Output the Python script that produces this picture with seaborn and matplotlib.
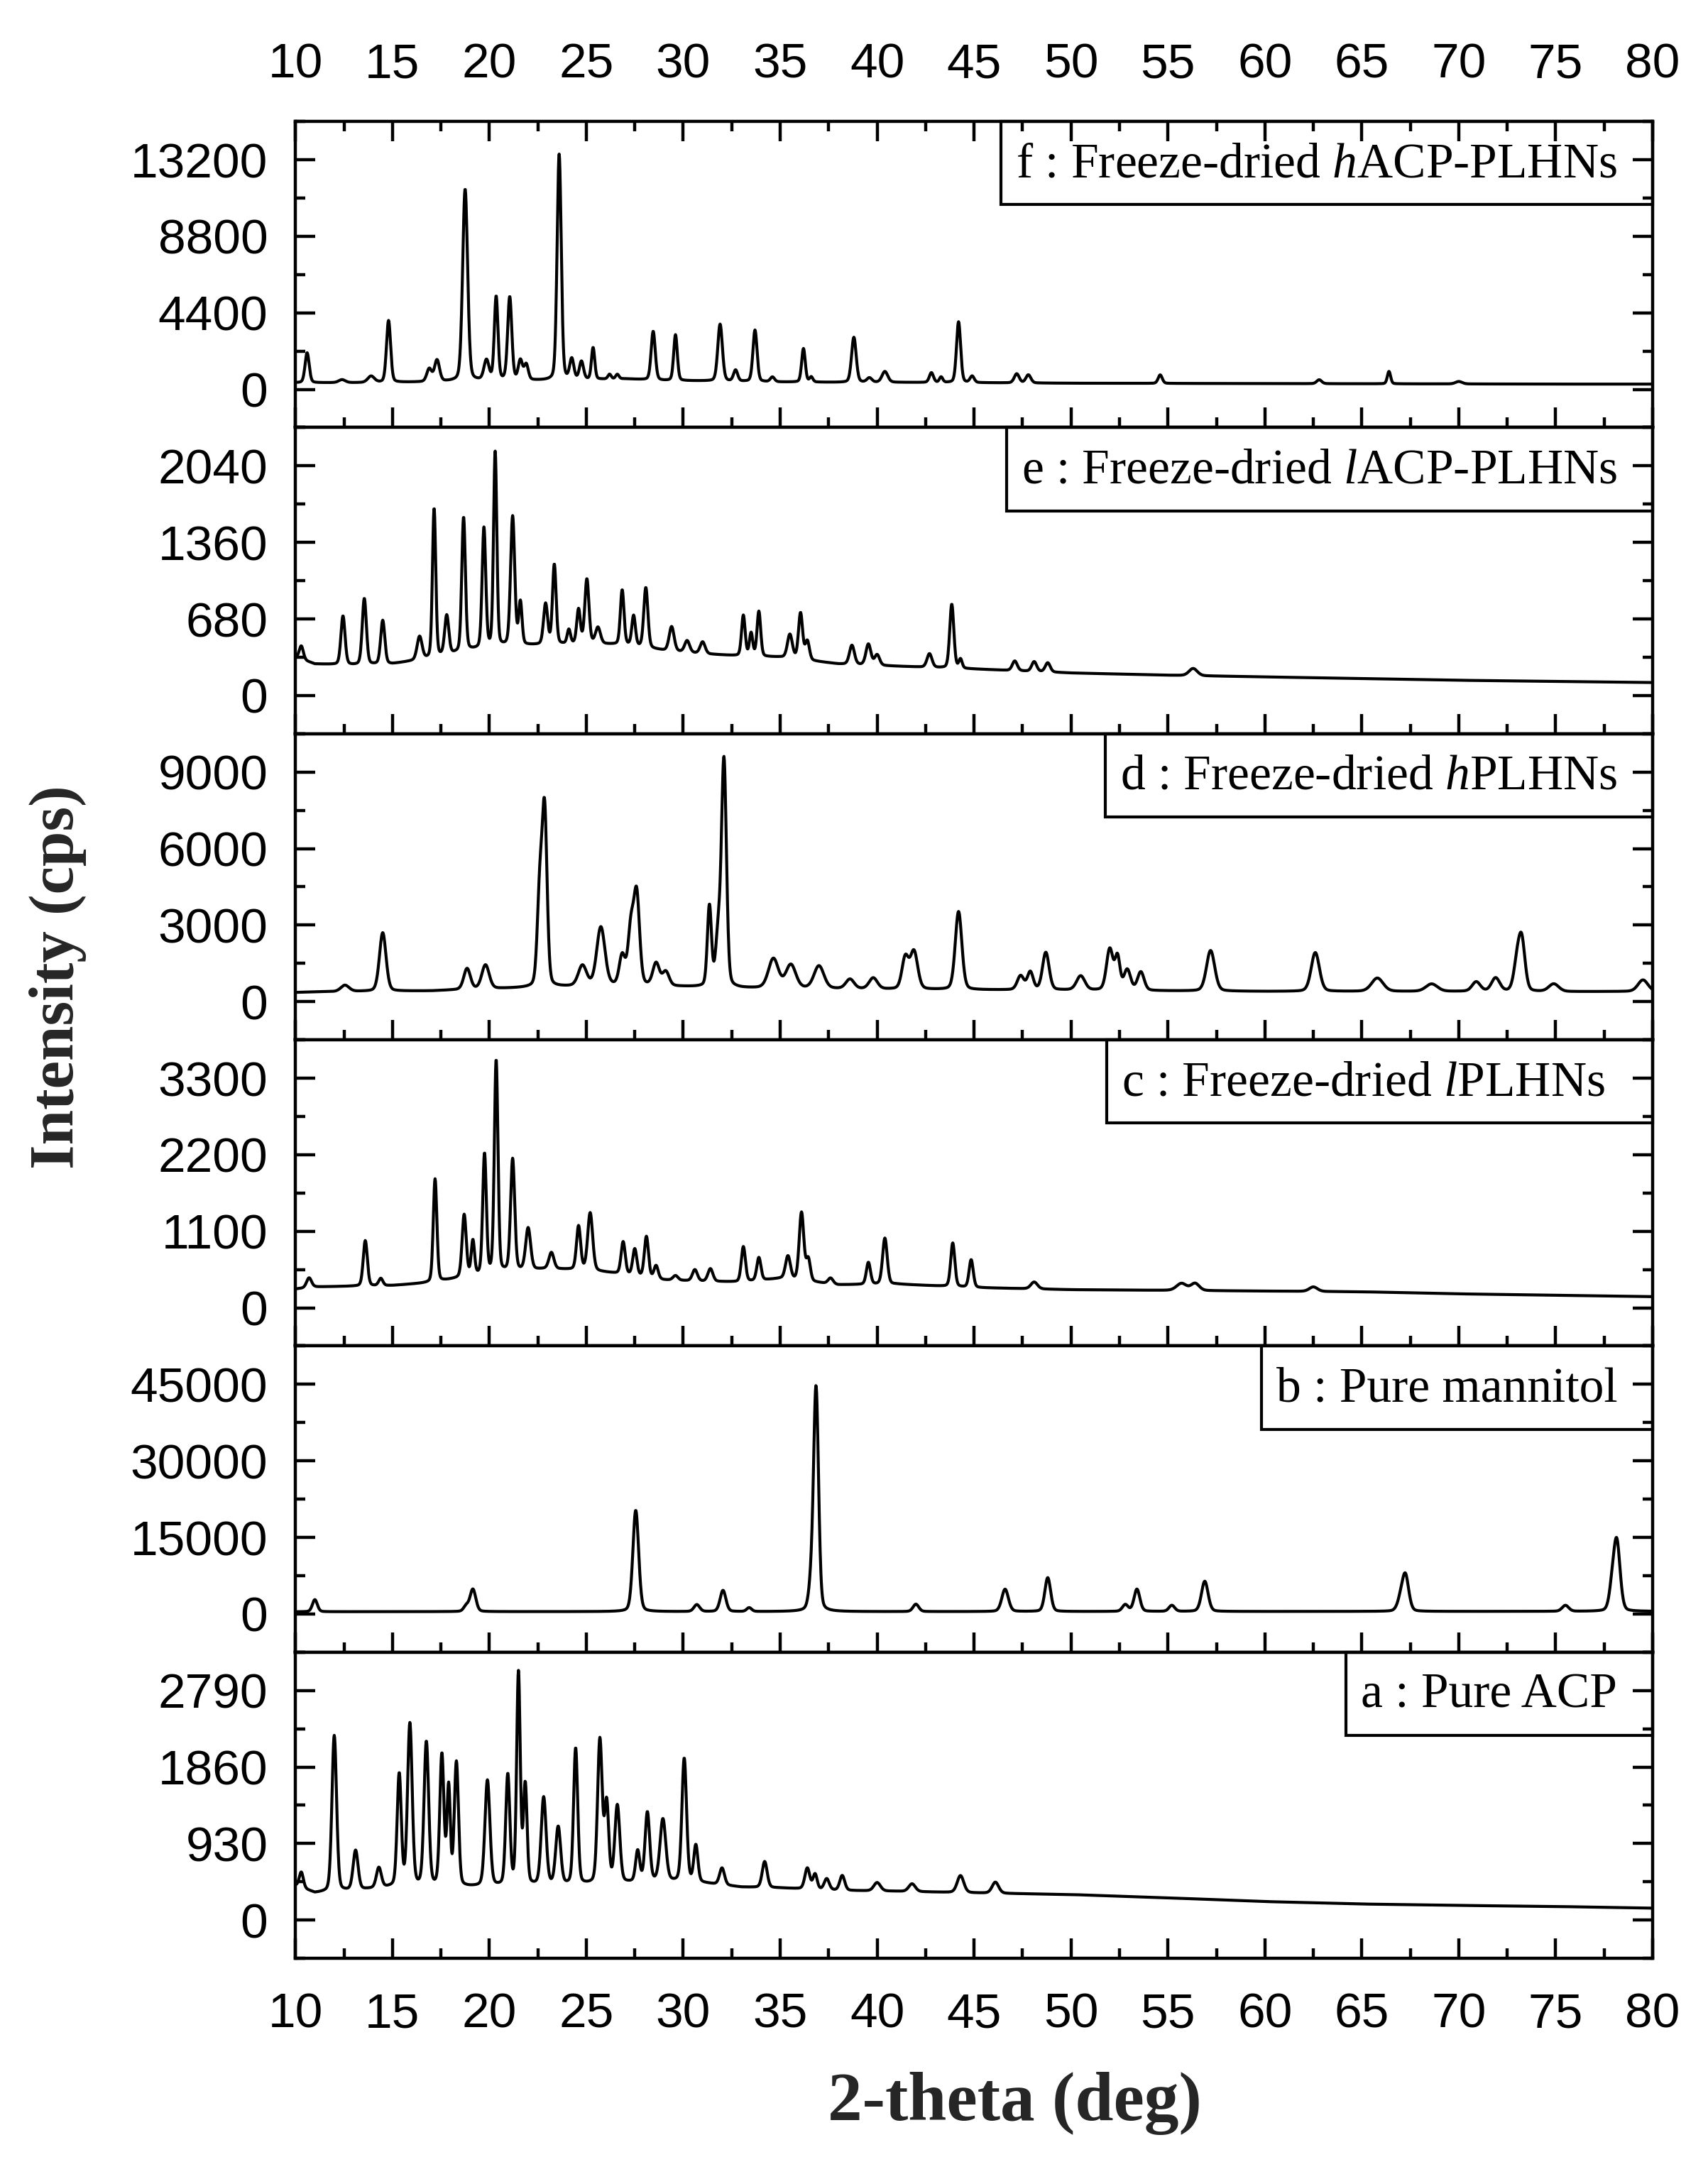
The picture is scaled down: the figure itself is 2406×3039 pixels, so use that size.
import numpy as np
import pandas as pd
import matplotlib
matplotlib.use("Agg")
import matplotlib.pyplot as plt
import seaborn as sns
from matplotlib.patches import Rectangle
from matplotlib.ticker import MultipleLocator

# ---- data (2-theta in deg, counts in cps) ----
# background knots, shared 2-theta positions
BG_X = [10, 11, 13, 15, 17, 19, 21, 23, 25, 27, 29, 31, 33, 35, 38, 41, 45, 50, 55, 60, 65, 70, 75, 80]

# f : Freeze-dried hACP-PLHNs
F_BG = [380, 380, 380, 400, 420, 480, 520, 500, 550, 600, 500, 480, 450, 420, 400, 400, 380, 350, 340, 330, 320, 310, 300, 300]
F_POS = [10.6, 12.4, 13.9, 14.8, 16.9, 17.3, 18.75, 19.85, 20.35, 21.05, 21.6, 21.9, 23.6, 24.25, 24.75, 25.35,
         26.2, 26.6, 28.45, 29.6, 31.9, 32.7, 33.7, 34.6, 36.2, 36.6, 38.8, 39.6, 40.4, 42.8, 43.3, 44.2, 44.9,
         47.2, 47.8, 54.6, 62.8, 66.4, 70.0]
F_TOP = [2100, 550, 750, 3950, 1160, 1660, 11500, 1630, 5300, 5280, 1630, 1400, 13500, 1700, 1570, 2380,
         850, 850, 3330, 3130, 3740, 1090, 3400, 700, 2340, 700, 2990, 650, 1020, 950, 700, 3880, 750,
         890, 830, 830, 550, 1030, 450]
F_FWHM = [0.25, 0.4, 0.4, 0.25, 0.3, 0.3, 0.3, 0.3, 0.22, 0.25, 0.25, 0.25, 0.25, 0.25, 0.25, 0.2,
          0.2, 0.2, 0.25, 0.22, 0.28, 0.25, 0.25, 0.25, 0.22, 0.2, 0.28, 0.3, 0.35, 0.25, 0.2, 0.25, 0.25,
          0.3, 0.3, 0.25, 0.3, 0.2, 0.4]

# e : Freeze-dried lACP-PLHNs
E_BG = [340, 280, 270, 280, 330, 400, 440, 450, 460, 450, 400, 370, 350, 340, 280, 260, 235, 200, 180, 165, 150, 135, 125, 115]
E_POS = [10.3, 12.45, 13.55, 14.5, 16.4, 17.15, 17.8, 18.67, 19.72, 20.3, 21.2, 21.6, 22.9, 23.35, 24.1, 24.6,
         25.03, 25.6, 26.85, 27.44, 28.07, 29.4, 30.2, 31.0, 33.1, 33.5, 33.9, 35.5, 36.05, 36.4, 38.7, 39.55,
         40.0, 42.7, 43.85, 44.3, 47.1, 48.1, 48.8, 56.3]
E_TOP = [440, 705, 860, 665, 520, 1660, 705, 1580, 1480, 2155, 1585, 820, 810, 1160, 580, 760,
         1030, 600, 935, 705, 956, 610, 485, 475, 710, 550, 745, 540, 730, 480, 445, 455,
         360, 370, 810, 320, 306, 300, 290, 240]
E_FWHM = [0.25, 0.25, 0.25, 0.25, 0.3, 0.2, 0.25, 0.22, 0.22, 0.2, 0.25, 0.2, 0.25, 0.22, 0.2, 0.22,
          0.25, 0.3, 0.22, 0.22, 0.25, 0.3, 0.3, 0.3, 0.22, 0.2, 0.22, 0.3, 0.25, 0.25, 0.3, 0.3,
          0.3, 0.3, 0.25, 0.2, 0.3, 0.3, 0.3, 0.5]

# d : Freeze-dried hPLHNs
D_BG = [360, 380, 400, 410, 420, 480, 520, 560, 600, 620, 600, 560, 520, 520, 500, 480, 460, 450, 420, 400, 400, 400, 390, 400]
D_POS = [12.55, 14.5, 18.85, 19.8, 22.6, 22.85, 24.8, 25.75, 26.85, 27.3, 27.6, 28.6, 29.1, 31.35, 31.8, 32.1,
         34.65, 35.55, 37.0, 38.6, 39.8, 41.45, 41.9, 44.2, 47.4, 47.9, 48.7, 50.5, 52.0, 52.4, 52.9, 53.6,
         57.2, 62.6, 65.8, 68.6, 70.9, 71.9, 73.0, 73.25, 74.9, 79.5]
D_TOP = [640, 2700, 1290, 1430, 4200, 7300, 1390, 2900, 1760, 2800, 4100, 1480, 1150, 3700, 2500, 9400,
         1670, 1430, 1390, 870, 920, 1700, 1950, 3525, 1000, 1150, 1920, 1000, 2050, 1700, 1230, 1150,
         2000, 1920, 920, 690, 770, 920, 1400, 2300, 690, 850]
D_FWHM = [0.5, 0.4, 0.4, 0.45, 0.3, 0.3, 0.5, 0.5, 0.35, 0.35, 0.35, 0.4, 0.4, 0.25, 0.3, 0.3,
          0.6, 0.6, 0.6, 0.5, 0.5, 0.4, 0.45, 0.4, 0.4, 0.35, 0.4, 0.5, 0.4, 0.3, 0.4, 0.4,
          0.5, 0.5, 0.7, 0.7, 0.5, 0.5, 0.4, 0.4, 0.6, 0.6]

# c : Freeze-dried lPLHNs
C_BG = [270, 300, 310, 320, 360, 450, 520, 560, 540, 480, 400, 380, 370, 420, 330, 340, 290, 260, 250, 240, 230, 200, 180, 160]
C_POS = [10.7, 13.6, 14.4, 17.2, 18.7, 19.15, 19.75, 20.35, 21.2, 22.0, 23.2, 24.6, 25.2, 26.9, 27.5, 28.1,
         28.6, 29.6, 30.6, 31.4, 33.1, 33.9, 35.4, 36.1, 36.45, 37.6, 39.55, 40.4, 43.9, 44.85,
         48.1, 55.7, 56.4, 62.5]
C_TOP = [430, 965, 420, 1850, 1330, 950, 2200, 3550, 2130, 1140, 790, 1170, 1360, 945, 840, 1020,
         600, 460, 546, 560, 877, 720, 740, 1365, 690, 425, 650, 1000, 930, 690,
         370, 350, 350, 300]
C_FWHM = [0.3, 0.25, 0.25, 0.22, 0.25, 0.2, 0.22, 0.22, 0.25, 0.3, 0.3, 0.25, 0.3, 0.25, 0.25, 0.25,
          0.25, 0.3, 0.3, 0.3, 0.25, 0.25, 0.3, 0.28, 0.25, 0.3, 0.25, 0.28, 0.25, 0.25,
          0.4, 0.6, 0.5, 0.5]

# b : Pure mannitol
B_BG = [420, 430, 440, 440, 450, 450, 450, 450, 450, 450, 450, 450, 450, 450, 450, 450, 460, 470, 480, 480, 490, 490, 500, 500]
B_POS = [11.0, 18.8, 19.15, 27.55, 30.7, 32.05, 33.4, 36.6, 36.85, 42.0, 46.6, 48.8, 52.8, 53.4, 55.2, 56.9,
         67.0, 67.25, 75.5, 77.9, 78.15]
B_TOP = [2800, 1500, 4840, 20300, 1800, 4600, 1200, 5000, 44000, 1900, 4840, 7100, 1800, 4840, 1670, 6400,
         2500, 7300, 1670, 4000, 14000]
B_FWHM = [0.3, 0.3, 0.35, 0.35, 0.35, 0.35, 0.3, 0.3, 0.3, 0.35, 0.4, 0.35, 0.35, 0.35, 0.35, 0.4,
          0.4, 0.4, 0.4, 0.35, 0.4]

# a : Pure ACP
A_BG = [420, 330, 360, 400, 400, 400, 410, 420, 430, 450, 470, 450, 400, 390, 360, 350, 330, 310, 270, 225, 195, 178, 165, 145]
A_POS = [10.3, 12.0, 13.1, 14.3, 15.35, 15.9, 16.75, 17.55, 17.9, 18.3, 19.9, 20.95, 21.5, 21.85, 22.8, 23.55,
         24.45, 25.7, 26.05, 26.6, 27.65, 28.15, 28.95, 30.05, 30.65, 32.0, 34.2, 36.4, 36.8, 37.4, 38.2,
         40.0, 41.8, 44.3, 46.1]
A_TOP = [580, 2240, 840, 630, 1760, 2370, 2150, 1990, 1590, 1900, 1690, 1750, 2985, 1620, 1480, 1120,
         2080, 2180, 1400, 1380, 830, 1300, 1220, 1960, 900, 630, 710, 630, 555, 500, 540,
         455, 440, 540, 460]
A_FWHM = [0.25, 0.28, 0.3, 0.3, 0.25, 0.28, 0.28, 0.25, 0.2, 0.25, 0.3, 0.25, 0.22, 0.22, 0.3, 0.3,
          0.25, 0.28, 0.25, 0.3, 0.25, 0.28, 0.35, 0.28, 0.25, 0.3, 0.3, 0.3, 0.25, 0.3, 0.3,
          0.4, 0.4, 0.4, 0.4]

LABELS = ["f : Freeze-dried $\\mathit{h}$ACP-PLHNs",
          "e : Freeze-dried $\\mathit{l}$ACP-PLHNs",
          "d : Freeze-dried $\\mathit{h}$PLHNs",
          "c : Freeze-dried $\\mathit{l}$PLHNs",
          "b : Pure mannitol",
          "a : Pure ACP"]
Y_STEPS = [4400, 680, 3000, 1100, 15000, 930]

TWO_THETA = np.arange(10, 80.0001, 0.02)


def pattern(pos, top, fwhm, bg_y):
    bg = np.interp(TWO_THETA, BG_X, bg_y)
    y = bg.copy()
    for p, h, w in zip(pos, top, fwhm):
        amp = h - np.interp(p, BG_X, bg_y)
        d = TWO_THETA - p
        gauss = np.exp(-4 * np.log(2) * (d / w) ** 2)
        lor = 1 / (1 + (2 * d / w) ** 2)
        y += amp * (0.78 * gauss + 0.22 * lor)
    return y


panels = [
    (F_POS, F_TOP, F_FWHM, F_BG),
    (E_POS, E_TOP, E_FWHM, E_BG),
    (D_POS, D_TOP, D_FWHM, D_BG),
    (C_POS, C_TOP, C_FWHM, C_BG),
    (B_POS, B_TOP, B_FWHM, B_BG),
    (A_POS, A_TOP, A_FWHM, A_BG),
]

sns.set_theme(style="ticks")
plt.rcParams['font.family'] = ['Liberation Sans', 'DejaVu Sans']
plt.rcParams['mathtext.fontset'] = 'custom'
plt.rcParams['mathtext.rm'] = 'Liberation Serif'
plt.rcParams['mathtext.it'] = 'Liberation Serif:italic'

fig = plt.figure(figsize=(12.03, 15.195), dpi=200)
axes = fig.subplots(6, 1, sharex=True)
fig.subplots_adjust(left=0.173, right=0.9676, top=0.9437, bottom=0.0921, hspace=0)

texts = []
for i, (ax, (pos, top, fwhm, bg), label, step) in enumerate(zip(axes, panels, LABELS, Y_STEPS)):
    df = pd.DataFrame({"two_theta": TWO_THETA, "cps": pattern(pos, top, fwhm, bg)})
    sns.lineplot(data=df, x="two_theta", y="cps", ax=ax, color="black", linewidth=1.5, estimator=None)
    ax.set_xlim(10, 80)
    ax.set_ylim(-step / 2, 3.5 * step)
    ax.xaxis.set_major_locator(MultipleLocator(5))
    ax.xaxis.set_minor_locator(MultipleLocator(2.5))
    ax.yaxis.set_major_locator(MultipleLocator(step))
    ax.yaxis.set_minor_locator(MultipleLocator(step / 2))
    ax.set_xlabel("")
    ax.set_ylabel("")
    for s in ax.spines.values():
        s.set_linewidth(1.6)
        s.set_color("black")
    ax.tick_params(which="both", direction="in", width=1.6, color="black",
                   left=True, right=True, bottom=True, top=(i == 0),
                   labelbottom=(i == 5), labeltop=(i == 0), labelsize=25, labelcolor="black")
    ax.tick_params(which="major", length=10)
    ax.tick_params(which="minor", length=5)
    ax.tick_params(axis="x", pad=17)
    ax.tick_params(axis="y", pad=14)
    t = ax.text(0.974 if i != 3 else 0.965, 0.858, label, transform=ax.transAxes,
                ha="right", va="center", family="Liberation Serif", fontsize=25, color="black")
    texts.append(t)

fig.canvas.draw()
renderer = fig.canvas.get_renderer()
for ax, t in zip(axes, texts):
    bb = t.get_window_extent(renderer).transformed(ax.transAxes.inverted())
    x0 = bb.x0 - 0.011
    ax.add_patch(Rectangle((x0, 0.728), 1 - x0, 0.272, transform=ax.transAxes,
                           fill=False, edgecolor="black", linewidth=1.5, clip_on=False, zorder=5))

fig.text(0.034, 0.547, "Intensity (cps)", rotation=90, ha="center", va="center",
         family="Liberation Serif", weight="bold", fontsize=32)
fig.text(0.594, 0.0247, "2-theta (deg)", ha="center", va="center",
         family="Liberation Serif", weight="bold", fontsize=35)

fig.savefig("out.png", dpi=200, facecolor="white")
